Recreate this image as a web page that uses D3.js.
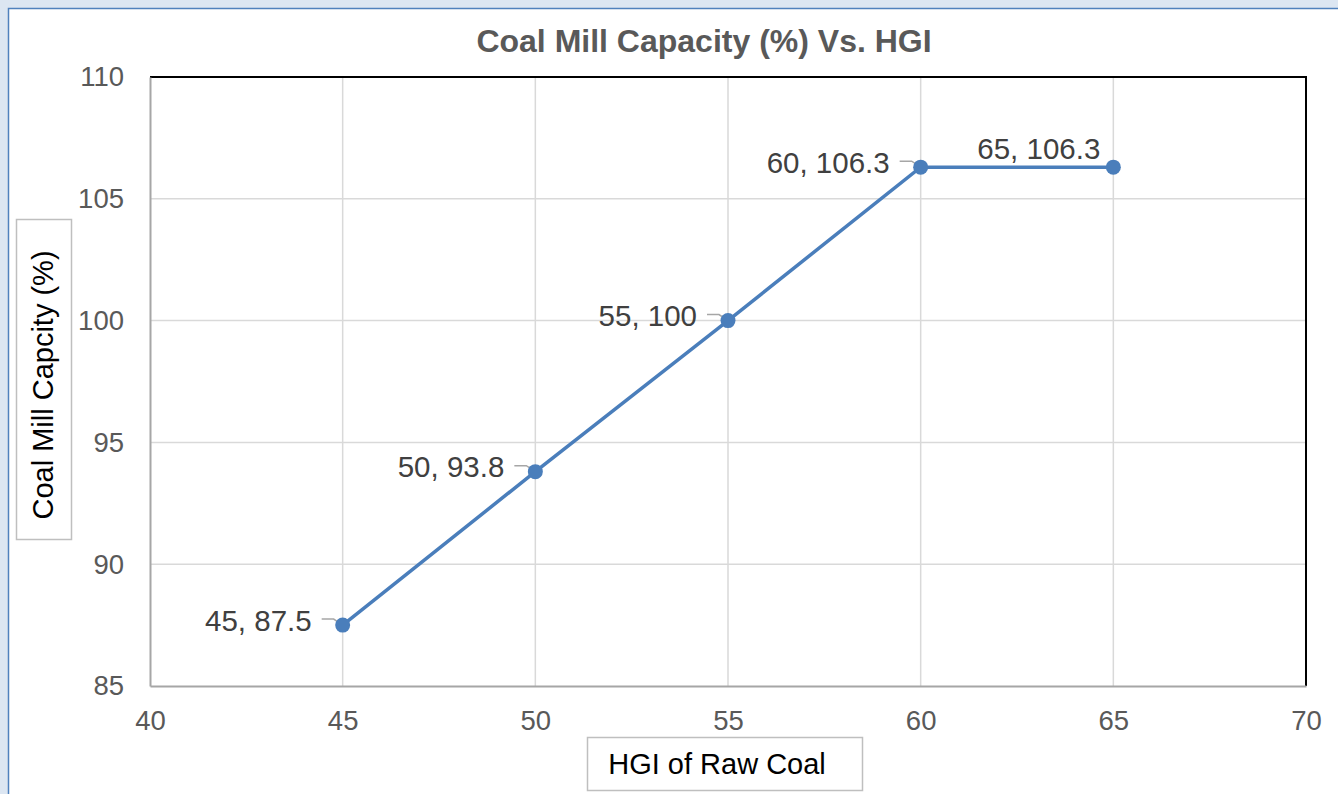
<!DOCTYPE html>
<html><head><meta charset="utf-8">
<script src="https://cdn.jsdelivr.net/npm/d3@7"></script>
<style>
html,body{margin:0;padding:0;background:#dce6f2;}
svg{display:block;}
</style></head>
<body>
<svg id="c" width="1338" height="794"></svg>
<script>
const hgi = [45, 50, 55, 60, 65];
const capacity = [87.5, 93.8, 100, 106.3, 106.3];
const xTicks = [40, 45, 50, 55, 60, 65, 70];
const yTicks = [85, 90, 95, 100, 105, 110];
const title = "Coal Mill Capacity (%) Vs. HGI";
const xTitle = "HGI of Raw Coal";
const yTitle = "Coal Mill Capcity (%)";

const svg = d3.select("#c");
const font = "Liberation Sans, Arial, sans-serif";

// chart background and border
svg.append("rect").attr("x", 8.5).attr("y", 8.5).attr("width", 1340).attr("height", 800)
  .attr("fill", "#ffffff").attr("stroke", "#4f81bd").attr("stroke-width", 1.5);

const L = 150, R = 1306, T = 77, B = 686;
const x = d3.scaleLinear().domain([40, 70]).range([L, R]);
const y = d3.scaleLinear().domain([85, 110]).range([B, T]);

// gridlines
svg.append("g").selectAll("line.v").data(xTicks.slice(1, -1)).join("line")
  .attr("x1", d => x(d)).attr("x2", d => x(d)).attr("y1", T).attr("y2", B)
  .attr("stroke", "#d9d9d9").attr("stroke-width", 1.5);
svg.append("g").selectAll("line.h").data(yTicks.slice(1, -1)).join("line")
  .attr("x1", L).attr("x2", R).attr("y1", d => y(d)).attr("y2", d => y(d))
  .attr("stroke", "#d9d9d9").attr("stroke-width", 1.5);

// plot frame: top/right black, left/bottom gray
svg.append("line").attr("x1", L).attr("x2", R + 1).attr("y1", T).attr("y2", T).attr("stroke", "#000").attr("stroke-width", 2);
svg.append("line").attr("x1", R).attr("x2", R).attr("y1", T).attr("y2", B).attr("stroke", "#000").attr("stroke-width", 2);

// axes
const xAxis = svg.append("g").attr("transform", `translate(0,${B})`)
  .call(d3.axisBottom(x).tickValues(xTicks).tickSize(0).tickPadding(24));
const yAxis = svg.append("g").attr("transform", `translate(${L},0)`)
  .call(d3.axisLeft(y).tickValues(yTicks).tickSize(0).tickPadding(26));
[xAxis, yAxis].forEach(a => {
  a.select(".domain").attr("stroke", "#a6a6a6").attr("stroke-width", 2);
  a.selectAll("text").attr("font-family", font).attr("font-size", 27.5).attr("fill", "#595959");
});
xAxis.selectAll("text").attr("dy", "0.71em");

// title
svg.append("text").attr("x", 704).attr("y", 52).attr("text-anchor", "middle")
  .attr("font-family", font).attr("font-size", 32).attr("font-weight", "bold").attr("fill", "#595959")
  .text(title);

// y axis title box
svg.append("rect").attr("x", 16.5).attr("y", 219.5).attr("width", 55).attr("height", 320)
  .attr("fill", "#fff").attr("stroke", "#bfbfbf").attr("stroke-width", 1.5);
svg.append("text").attr("transform", "translate(53,385) rotate(-90)").attr("text-anchor", "middle")
  .attr("font-family", font).attr("font-size", 29).attr("fill", "#000").text(yTitle);

// x axis title box
svg.append("rect").attr("x", 587.5).attr("y", 737.5).attr("width", 275).attr("height", 53)
  .attr("fill", "#fff").attr("stroke", "#bfbfbf").attr("stroke-width", 1.5);
svg.append("text").attr("x", 717).attr("y", 774).attr("text-anchor", "middle")
  .attr("font-family", font).attr("font-size", 29).attr("fill", "#000").text(xTitle);

const data = hgi.map((h, i) => ({h, c: capacity[i]}));

// leader lines (for labels placed left of point)
const leader = data.slice(0, 4);
svg.append("g").selectAll("path").data(leader).join("path")
  .attr("d", d => {
    const px = x(d.h), py = y(d.c);
    return `M${px - 21},${py - 6} L${px - 9},${py - 6} L${px},${py}`;
  })
  .attr("fill", "none").attr("stroke", "#a6a6a6").attr("stroke-width", 1.5);

// line
svg.append("path").datum(data)
  .attr("d", d3.line().x(d => x(d.h)).y(d => y(d.c)))
  .attr("fill", "none").attr("stroke", "#4a7ebb").attr("stroke-width", 3.5);

// markers
svg.append("g").selectAll("circle").data(data).join("circle")
  .attr("cx", d => x(d.h)).attr("cy", d => y(d.c)).attr("r", 7.5)
  .attr("fill", "#4a7ebb");

// data labels
svg.append("g").selectAll("text").data(data).join("text")
  .attr("x", (d, i) => i < 4 ? x(d.h) - 31 : x(d.h) - 13)
  .attr("y", (d, i) => i < 4 ? y(d.c) + 5.5 : y(d.c) - 8.5)
  .attr("text-anchor", "end")
  .attr("font-family", font).attr("font-size", 29.5).attr("fill", "#404040")
  .text(d => `${d.h}, ${d.c}`);
</script>
</body></html>
